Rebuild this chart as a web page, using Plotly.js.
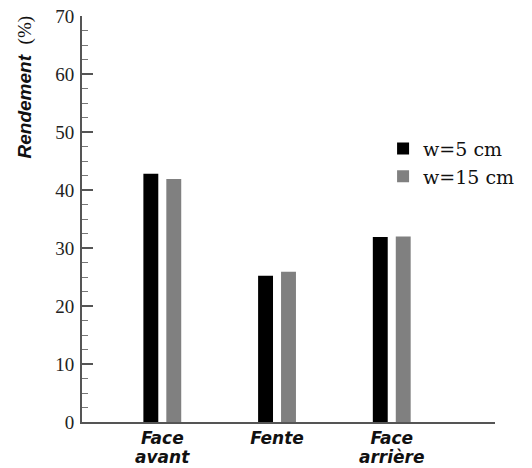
<!DOCTYPE html>
<html><head><meta charset="utf-8">
<script src="https://cdn.plot.ly/plotly-3.0.1.min.js"></script>
<style>html,body{margin:0;padding:0;background:#fff}#chart{width:532px;height:468px}</style>
</head><body><div id="chart"></div>
<script>
const categories = ["Face avant", "Fente", "Face arrière"];
const w5 = [42.8, 25.2, 31.9];
const w15 = [41.9, 25.9, 32.0];
const seriesNames = ["w=5 cm", "w=15 cm"];
const yTicks = [0, 10, 20, 30, 40, 50, 60, 70];

const xIdx = categories.map((_, i) => i);
const line1 = categories.map(c => "<b><i>" + c.split(" ")[0] + "</i></b>");
const line2 = categories.map(c => { const p = c.split(" "); return p.length > 1 ? p.slice(1).join(" ") : ""; });

const traces = [
  {type: "bar", x: xIdx, y: w5, name: seriesNames[0], width: 0.13, offset: -0.165,
   marker: {color: "#000000", line: {width: 0}}},
  {type: "bar", x: xIdx, y: w15, name: seriesNames[1], width: 0.13, offset: 0.035,
   marker: {color: "#808080", line: {width: 0}}}
];

const labFont = {family: "DejaVu Sans, sans-serif", size: 17, color: "#111"};

const annotations = [{
  xref: "paper", yref: "paper", x: -0.138, y: 1.005, xanchor: "center", yanchor: "top",
  textangle: -90, showarrow: false,
  text: "<b><i>Rendement</i></b>  <span style='font-family:Liberation Serif;font-size:19px'>(%)</span>",
  font: {family: "Liberation Sans, Arial, sans-serif", size: 19, color: "#111"}
}];
line2.forEach((t, i) => {
  if (t) annotations.push({
    xref: "x", yref: "paper", x: xIdx[i], y: 0, xanchor: "center", yanchor: "top",
    yshift: -24, borderpad: 0, showarrow: false, text: "<b><i>" + t + "</i></b>", font: labFont
  });
});

const layout = {
  width: 532, height: 468,
  margin: {l: 82, r: 37, t: 16, b: 46},
  paper_bgcolor: "#fff", plot_bgcolor: "#fff",
  showlegend: true,
  legend: {x: 0.729, y: 0.72, xanchor: "left", yanchor: "top",
    font: {family: "DejaVu Serif, serif", size: 19, color: "#111"},
    tracegroupgap: 0, itemwidth: 30, bgcolor: "rgba(0,0,0,0)"},
  xaxis: {
    range: [-0.7, 2.9], tickmode: "array", tickvals: xIdx, ticktext: line1,
    showline: true, linecolor: "#555", linewidth: 2, ticks: "", showgrid: false, zeroline: false,
    tickfont: labFont, ticklabelstandoff: 0
  },
  yaxis: {
    range: [0, 70], tickmode: "array", tickvals: yTicks,
    showline: true, linecolor: "#555", linewidth: 2, showgrid: false, zeroline: false,
    ticks: "inside", ticklen: 11, tickwidth: 2, tickcolor: "#555",
    minor: {dtick: 2.5, ticks: "inside", ticklen: 6, tickwidth: 1, tickcolor: "#777", showgrid: false},
    tickfont: {family: "Liberation Serif", size: 19, color: "#222"},
    ticklabelstandoff: 2
  },
  annotations: annotations
};

Plotly.newPlot("chart", traces, layout, {displayModeBar: false, staticPlot: true});
</script></body></html>
